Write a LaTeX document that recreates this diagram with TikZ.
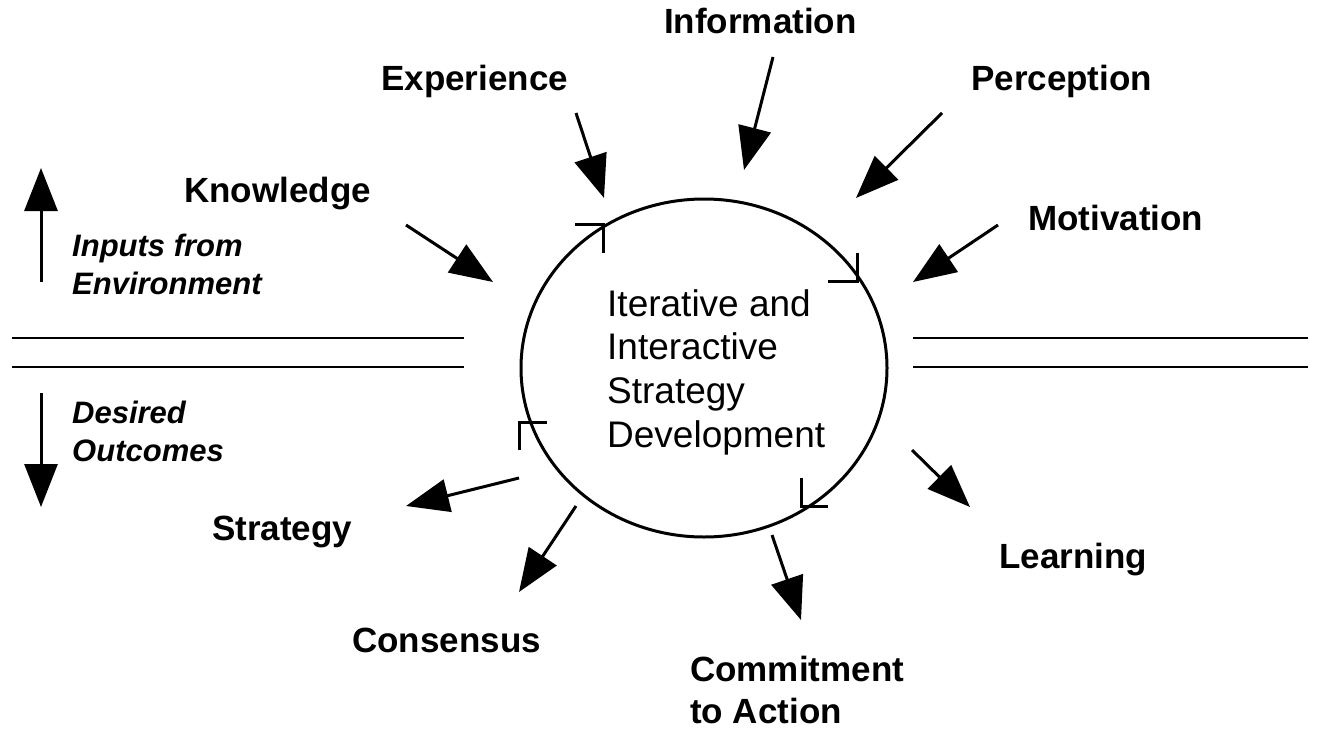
\documentclass[tikz,border=0pt]{standalone}
\usepackage{fontspec}
\setmainfont{Liberation Sans}
\usetikzlibrary{arrows.meta,shapes.geometric}
\begin{document}
\begin{tikzpicture}[x=1pt,y=-1pt,
  lbl/.style={font=\fontsize{35}{42}\selectfont\bfseries, anchor=base west, inner sep=0pt},
  lbltwo/.style={font=\fontsize{35}{42}\selectfont\bfseries, anchor=north west, inner sep=0pt, align=left},
  side/.style={font=\fontsize{31}{38}\selectfont\bfseries\itshape, anchor=north west, inner sep=0pt, align=left},
  arr/.style={line width=3pt, -{Triangle[length=43pt,width=33pt]}},
  turnmark/.style={line width=3pt, line cap=butt, line join=miter},
  rulel/.style={line width=2.5pt}
]
\useasboundingbox (0,0) rectangle (1319,744);

% central circle
\node[draw, ellipse, line width=3pt, minimum width=366pt, minimum height=338pt, inner sep=0pt] (core) at (704,368) {};
\node[font=\fontsize{37}{43.7}\selectfont, anchor=north west, inner sep=0pt, align=left] (coretext) at (607,289)
  {Iterative and\\Interactive\\Strategy\\Development};

% direction marks on the circle
\coordinate (m1a) at (575,224); \coordinate (m1b) at (603,224); \coordinate (m1c) at (603,253);
\coordinate (m2a) at (857,253); \coordinate (m2b) at (857,281); \coordinate (m2c) at (828,281);
\coordinate (m3a) at (801,478); \coordinate (m3b) at (801,506); \coordinate (m3c) at (828,506);
\coordinate (m4a) at (519,450); \coordinate (m4b) at (519,422); \coordinate (m4c) at (547,422);
\draw[turnmark] (m1a) -- (m1b) -- (m1c);
\draw[turnmark] (m2a) -- (m2b) -- (m2c);
\draw[turnmark] (m3a) -- (m3b) -- (m3c);
\draw[turnmark] (m4a) -- (m4b) -- (m4c);

% labels
\node[lbl] (information) at (664,33) {Information};
\node[lbl] (experience) at (381,90) {Experience};
\node[lbl] (perception) at (971,90) {Perception};
\node[lbl] (knowledge) at (184,202) {Knowledge};
\node[lbl] (motivation) at (1028,230) {Motivation};
\node[lbl] (strategy) at (212,540) {Strategy};
\node[lbl] (consensus) at (352,652) {Consensus};
\node[lbl] (learning) at (999,568) {Learning};
\node[lbltwo] (commitment) at (690,656) {Commitment\\to Action};

% input arrows
\coordinate (kn-s) at (406,225); \coordinate (kn-e) at (493,282);
\coordinate (ex-s) at (576,113); \coordinate (ex-e) at (604,198);
\coordinate (in-s) at (773,57);  \coordinate (in-e) at (744,170);
\coordinate (pe-s) at (942,113); \coordinate (pe-e) at (856,198);
\coordinate (mo-s) at (998,225); \coordinate (mo-e) at (913,282);
\draw[arr] (kn-s) -- (kn-e);
\draw[arr] (ex-s) -- (ex-e);
\draw[arr] (in-s) -- (in-e);
\draw[arr] (pe-s) -- (pe-e);
\draw[arr] (mo-s) -- (mo-e);

% output arrows
\coordinate (st-s) at (519,478); \coordinate (st-e) at (406,506);
\coordinate (co-s) at (576,506); \coordinate (co-e) at (519,592);
\coordinate (cm-s) at (772,535); \coordinate (cm-e) at (801,620);
\coordinate (le-s) at (912,450); \coordinate (le-e) at (970,507);
\draw[arr] (st-s) -- (st-e);
\draw[arr] (co-s) -- (co-e);
\draw[arr] (cm-s) -- (cm-e);
\draw[arr] (le-s) -- (le-e);

% separating double lines
\coordinate (l1a) at (12,338);  \coordinate (l1b) at (464,338);
\coordinate (l2a) at (12,367);  \coordinate (l2b) at (464,367);
\coordinate (r1a) at (913,338); \coordinate (r1b) at (1308,338);
\coordinate (r2a) at (913,367); \coordinate (r2b) at (1308,367);
\draw[rulel] (l1a) -- (l1b);
\draw[rulel] (l2a) -- (l2b);
\draw[rulel] (r1a) -- (r1b);
\draw[rulel] (r2a) -- (r2b);

% side legend
\coordinate (up-s) at (41,282); \coordinate (up-e) at (41,168);
\coordinate (dn-s) at (41,393); \coordinate (dn-e) at (41,507);
\draw[arr] (up-s) -- (up-e);
\draw[arr] (dn-s) -- (dn-e);
\node[side] (inputs) at (72,234) {Inputs from\\Environment};
\node[side] (outcomes) at (72,401) {Desired\\Outcomes};
\end{tikzpicture}
\end{document}
